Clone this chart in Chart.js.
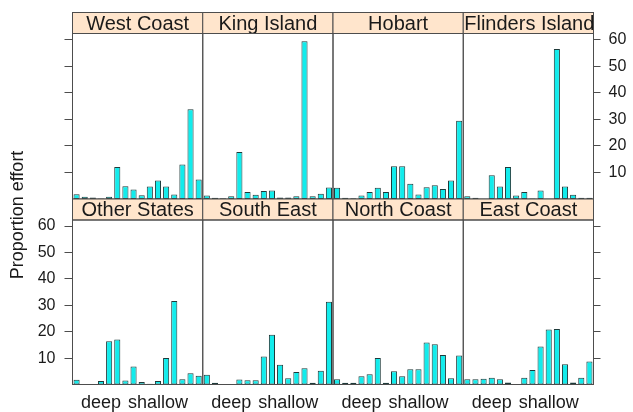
<!DOCTYPE html>
<html>
<head>
<meta charset="utf-8">
<script src="https://cdn.jsdelivr.net/npm/chart.js@4"></script>
<style>
  html, body { margin: 0; padding: 0; background: #fff; }
  #wrap { position: relative; width: 633px; height: 412px; }
  #wrap canvas { position: absolute; left: 0; top: 0; }
</style>
</head>
<body>
<div id="wrap"></div>
<script>
// panel names, in lattice order (top row then bottom row)
const regions = ["West Coast", "King Island", "Hobart", "Flinders Island",
                 "Other States", "South East", "North Coast", "East Coast"];

// proportion effort per bar (16 bars per panel)
const westCoast      = [1.8, 0.8, 0.6, 0.2, 0.8, 12, 4.8, 3.6, 1.4, 4.7, 7, 4.7, 1.7, 13, 33.8, 7.3];
const kingIsland     = [1.3, 0.5, 0.3, 1, 17.7, 2.6, 1.6, 3, 3.2, 0.6, 0.6, 1, 59.4, 1, 2, 4.3];
const hobart         = [4.2, 0.5, 0.3, 1.3, 2.6, 4.2, 2.6, 12.3, 12.3, 5.7, 1.7, 4.4, 5.2, 3.8, 7, 29.5];
const flindersIsland = [1, 0.5, 0, 8.9, 4.7, 12, 1.3, 2.6, 0.2, 3.2, 0, 56.5, 4.7, 1.6, 0.5, 0.5];
const otherStates    = [1.8, 0, 0.2, 1.3, 16.4, 17, 1.5, 6.8, 0.9, 0.3, 1.3, 10, 31.6, 2, 4.3, 3.3];
const southEast      = [3.7, 0.7, 0.2, 0.2, 1.9, 1.6, 1.6, 10.6, 18.8, 7.5, 2.4, 4.7, 6.2, 0.7, 5.2, 31.3];
const northCoast     = [2, 0.7, 0.7, 3.1, 3.9, 10, 0.7, 5, 3.1, 5.8, 5.8, 15.9, 15.2, 11.2, 2.4, 11];
const eastCoast      = [2, 2, 2.2, 2.6, 2, 0.8, 0.2, 2.6, 5.5, 14.4, 20.8, 21, 7.7, 0.8, 2.6, 8.7];

const panelData = [westCoast, kingIsland, hobart, flindersIsland,
                   otherStates, southEast, northCoast, eastCoast];

// x tick labels: shown under bar 4 and bar 11
const depthLabels = ["deep", "shallow"];
const depthLabelAt = [3, 10];
const yTicks = [10, 20, 30, 40, 50, 60];
const yMax = 62.3;

const FONT = "'Liberation Sans', Arial, Helvetica, sans-serif";
const TEXT = "#1a1a1a";
const LINE = "#4d4d4d";

const xLabels = westCoast.map(() => "");
depthLabelAt.forEach((idx, k) => { xLabels[idx] = depthLabels[k]; });

// panel geometry
const panelLeft = 72.5, panelW = 130.25, stripH = 21;
const rowTop = [33.5, 220], rowBottom = [199, 384.5];
const leftAxisW = 60, rightAxisW = 39, xAxisH = 27.5;

const panelDecor = {
  id: "panelDecor",
  afterDraw(chart, args, opts) {
    const { ctx, chartArea: a } = chart;
    ctx.save();
    // strip
    ctx.fillStyle = "#ffe5cc";
    ctx.fillRect(a.left, a.top - stripH, a.right - a.left, stripH);
    ctx.strokeStyle = LINE;
    ctx.lineWidth = 1;
    ctx.strokeRect(a.left, a.top - stripH, a.right - a.left, stripH);
    ctx.beginPath();
    ctx.rect(a.left, a.top - stripH, a.right - a.left, stripH);
    ctx.clip();
    ctx.fillStyle = TEXT;
    ctx.font = "20px " + FONT;
    ctx.textAlign = "center";
    ctx.textBaseline = "middle";
    let tx = (a.left + a.right) / 2;
    const w = ctx.measureText(opts.title).width;
    if (w > a.right - a.left - 2) { ctx.textAlign = "left"; tx = a.left + 1; }
    ctx.fillText(opts.title, tx, a.top - stripH / 2 + 1);
    ctx.restore();
    // panel box
    ctx.save();
    ctx.strokeStyle = LINE;
    ctx.lineWidth = 1;
    ctx.strokeRect(a.left, a.top, a.right - a.left, a.bottom - a.top);
    if (opts.ylab) {
      ctx.fillStyle = TEXT;
      ctx.font = "18px " + FONT;
      ctx.textAlign = "center";
      ctx.textBaseline = "middle";
      ctx.translate(18, 215);
      ctx.rotate(-Math.PI / 2);
      ctx.fillText("Proportion effort", 0, 0);
    }
    ctx.restore();
  }
};

const wrap = document.getElementById("wrap");

panelData.forEach((values, i) => {
  const row = Math.floor(i / 4), col = i % 4;
  const left = panelLeft + col * panelW, right = left + panelW;
  const top = rowTop[row], bottom = rowBottom[row];
  const yLeft = col === 0, yRight = col === 3;
  const yLabels = (row === 0 && col === 3) || (row === 1 && col === 0);
  const showX = row === 1;
  const yW = yLeft ? leftAxisW : (yRight ? rightAxisW : 0);
  const xH = showX ? xAxisH : 0;

  const canvas = document.createElement("canvas");
  canvas.width = 633;
  canvas.height = 412;
  wrap.appendChild(canvas);

  new Chart(canvas.getContext("2d"), {
    type: "bar",
    data: {
      labels: xLabels,
      datasets: [{
        data: values,
        backgroundColor: "#12ecec",
        borderColor: "#1e3a3a",
        borderWidth: 1,
        borderSkipped: false,
        barPercentage: 0.75,
        categoryPercentage: 1
      }]
    },
    plugins: [panelDecor],
    options: {
      responsive: false,
      devicePixelRatio: 1,
      animation: false,
      layout: {
        padding: {
          left: left - (yLeft ? yW : 0),
          right: 633 - right - (yRight ? yW : 0),
          top: top,
          bottom: 412 - bottom - xH
        }
      },
      plugins: {
        legend: { display: false },
        tooltip: { enabled: false },
        panelDecor: { title: regions[i], ylab: i === 0 }
      },
      scales: {
        x: {
          display: showX,
          grid: { display: false },
          border: { display: false },
          ticks: {
            autoSkip: false, maxRotation: 0, minRotation: 0, padding: 0,
            color: TEXT, font: { family: FONT, size: 18 }
          },
          afterFit: (s) => { s.height = xH; }
        },
        y: {
          display: yLeft || yRight,
          position: yRight ? "right" : "left",
          min: 0,
          max: yMax,
          grid: { drawOnChartArea: false, drawTicks: true, tickLength: yRight ? 7 : 8, color: LINE },
          border: { display: false },
          ticks: {
            display: yLabels,
            padding: yRight ? 8 : 9,
            color: TEXT,
            font: { family: FONT, size: 16 }
          },
          afterBuildTicks: (s) => { s.ticks = yTicks.map(v => ({ value: v })); },
          afterFit: (s) => { s.width = yW; }
        }
      }
    }
  });
});
</script>
</body>
</html>
